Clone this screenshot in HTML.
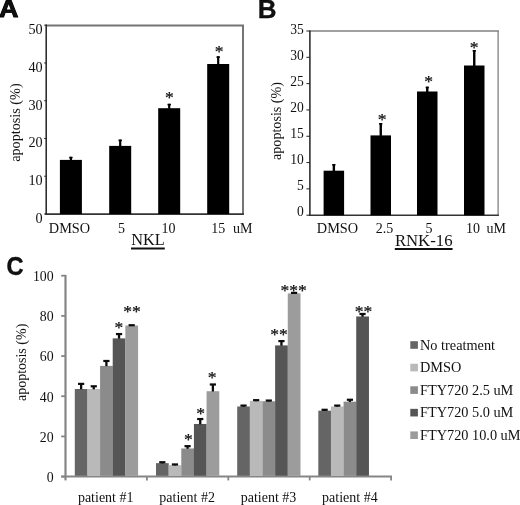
<!DOCTYPE html>
<html><head><meta charset="utf-8"><title>Figure</title>
<style>
html,body{margin:0;padding:0;background:#fff;}
body{width:520px;height:505px;overflow:hidden;}
svg{display:block;}
text{fill:#111;}
</style></head><body>
<svg width="520" height="505" viewBox="0 0 520 505">
<rect x="0" y="0" width="520" height="505" fill="#ffffff"/>
<text x="0" y="0" font-size="24.5" text-anchor="start" font-family='"Liberation Sans", sans-serif' font-weight="bold" transform="translate(-0.9,17.3) scale(1.1,1)" stroke="#000" stroke-width="0.9" fill="#000">A</text>
<text x="257.7" y="17.7" font-size="26" text-anchor="start" font-family='"Liberation Sans", sans-serif' font-weight="bold" stroke="#000" stroke-width="0.3" fill="#000">B</text>
<text x="0" y="0" font-size="26.2" text-anchor="start" font-family='"Liberation Sans", sans-serif' font-weight="bold" transform="translate(6.4,275.4) scale(0.9,1)" stroke="#000" stroke-width="0.4" fill="#000">C</text>
<line x1="46.2" y1="25.4" x2="244" y2="25.4" stroke="#757575" stroke-width="2.0"/>
<line x1="243" y1="25.2" x2="243" y2="214" stroke="#757575" stroke-width="2.0"/>
<line x1="46.2" y1="24.6" x2="46.2" y2="214.6" stroke="#222" stroke-width="1.5"/>
<line x1="45.2" y1="214.2" x2="243.9" y2="214.2" stroke="#333" stroke-width="1.8"/>
<line x1="44.2" y1="214" x2="46.2" y2="214" stroke="#222" stroke-width="1"/>
<text x="0" y="0" font-size="14.8" text-anchor="end" font-family='"Liberation Serif", serif'  transform="translate(42.6,223.1) scale(0.96,1)">0</text>
<line x1="44.2" y1="176.24" x2="46.2" y2="176.24" stroke="#222" stroke-width="1"/>
<text x="0" y="0" font-size="14.8" text-anchor="end" font-family='"Liberation Serif", serif'  transform="translate(42.6,185.24) scale(0.96,1)">10</text>
<line x1="44.2" y1="138.48" x2="46.2" y2="138.48" stroke="#222" stroke-width="1"/>
<text x="0" y="0" font-size="14.8" text-anchor="end" font-family='"Liberation Serif", serif'  transform="translate(42.6,147.38) scale(0.96,1)">20</text>
<line x1="44.2" y1="100.72" x2="46.2" y2="100.72" stroke="#222" stroke-width="1"/>
<text x="0" y="0" font-size="14.8" text-anchor="end" font-family='"Liberation Serif", serif'  transform="translate(42.6,109.52) scale(0.96,1)">30</text>
<line x1="44.2" y1="62.96" x2="46.2" y2="62.96" stroke="#222" stroke-width="1"/>
<text x="0" y="0" font-size="14.8" text-anchor="end" font-family='"Liberation Serif", serif'  transform="translate(42.6,71.66) scale(0.96,1)">40</text>
<line x1="44.2" y1="25.2" x2="46.2" y2="25.2" stroke="#222" stroke-width="1"/>
<text x="0" y="0" font-size="14.8" text-anchor="end" font-family='"Liberation Serif", serif'  transform="translate(42.6,33.8) scale(0.96,1)">50</text>
<rect x="59.9" y="159.9" width="22" height="54.1" fill="#000"/>
<rect x="69.8" y="156.8" width="2.2" height="3.6" fill="#000"/>
<rect x="69.2" y="156.8" width="3.4" height="1.6" fill="#000"/>
<rect x="109.2" y="145.9" width="22" height="68.1" fill="#000"/>
<rect x="119.1" y="139.6" width="2.2" height="6.8" fill="#000"/>
<rect x="118.5" y="139.6" width="3.4" height="1.6" fill="#000"/>
<rect x="158.2" y="108.2" width="22" height="105.8" fill="#000"/>
<rect x="168.1" y="103.8" width="2.2" height="4.9" fill="#000"/>
<rect x="167.5" y="103.8" width="3.4" height="1.6" fill="#000"/>
<rect x="207.2" y="64" width="22" height="150" fill="#000"/>
<rect x="217.1" y="56.3" width="2.2" height="8.2" fill="#000"/>
<rect x="216.5" y="56.3" width="3.4" height="1.6" fill="#000"/>
<text x="169.4" y="103.35" font-size="17.5" text-anchor="middle" font-family='"Liberation Serif", serif' stroke="#111" stroke-width="0.25">*</text>
<text x="219.2" y="57.45" font-size="17.5" text-anchor="middle" font-family='"Liberation Serif", serif' stroke="#111" stroke-width="0.25">*</text>
<text x="69.5" y="232.7" font-size="14.3" text-anchor="middle" font-family='"Liberation Serif", serif' >DMSO</text>
<text x="121.5" y="232.7" font-size="14" text-anchor="middle" font-family='"Liberation Serif", serif' >5</text>
<text x="168.4" y="232.7" font-size="14" text-anchor="middle" font-family='"Liberation Serif", serif' >10</text>
<text x="218.3" y="232.7" font-size="14" text-anchor="middle" font-family='"Liberation Serif", serif' >15</text>
<text x="233" y="232.7" font-size="14" text-anchor="start" font-family='"Liberation Serif", serif' >uM</text>
<text x="131.2" y="245.1" font-size="16" text-anchor="start" font-family='"Liberation Serif", serif' textLength="33.5" lengthAdjust="spacingAndGlyphs">NKL</text>
<line x1="131" y1="248.4" x2="164.8" y2="248.4" stroke="#111" stroke-width="2.0"/>
<text x="0" y="0" font-size="14.2" text-anchor="middle" font-family='"Liberation Serif", serif' transform="translate(20.4,122.6) rotate(-90)">apoptosis (%)</text>
<line x1="309.9" y1="31" x2="498.9" y2="31" stroke="#808080" stroke-width="1.3"/>
<line x1="498.1" y1="31" x2="498.1" y2="215.2" stroke="#808080" stroke-width="1.3"/>
<line x1="309.9" y1="30.4" x2="309.9" y2="215.8" stroke="#222" stroke-width="1.5"/>
<line x1="308.9" y1="215.2" x2="498.9" y2="215.2" stroke="#333" stroke-width="1.5"/>
<line x1="306.4" y1="215.2" x2="309.9" y2="215.2" stroke="#222" stroke-width="1"/>
<text x="0" y="0" font-size="14.3" text-anchor="end" font-family='"Liberation Serif", serif'  transform="translate(303.9,216.44) scale(0.95,1)">0</text>
<line x1="306.4" y1="188.89" x2="309.9" y2="188.89" stroke="#222" stroke-width="1"/>
<text x="0" y="0" font-size="14.3" text-anchor="end" font-family='"Liberation Serif", serif'  transform="translate(303.9,190.31) scale(0.95,1)">5</text>
<line x1="306.4" y1="162.57" x2="309.9" y2="162.57" stroke="#222" stroke-width="1"/>
<text x="0" y="0" font-size="14.3" text-anchor="end" font-family='"Liberation Serif", serif'  transform="translate(303.9,164.17) scale(0.95,1)">10</text>
<line x1="306.4" y1="136.26" x2="309.9" y2="136.26" stroke="#222" stroke-width="1"/>
<text x="0" y="0" font-size="14.3" text-anchor="end" font-family='"Liberation Serif", serif'  transform="translate(303.9,138.04) scale(0.95,1)">15</text>
<line x1="306.4" y1="109.94" x2="309.9" y2="109.94" stroke="#222" stroke-width="1"/>
<text x="0" y="0" font-size="14.3" text-anchor="end" font-family='"Liberation Serif", serif'  transform="translate(303.9,111.9) scale(0.95,1)">20</text>
<line x1="306.4" y1="83.63" x2="309.9" y2="83.63" stroke="#222" stroke-width="1"/>
<text x="0" y="0" font-size="14.3" text-anchor="end" font-family='"Liberation Serif", serif'  transform="translate(303.9,85.77) scale(0.95,1)">25</text>
<line x1="306.4" y1="57.31" x2="309.9" y2="57.31" stroke="#222" stroke-width="1"/>
<text x="0" y="0" font-size="14.3" text-anchor="end" font-family='"Liberation Serif", serif'  transform="translate(303.9,59.63) scale(0.95,1)">30</text>
<line x1="306.4" y1="31" x2="309.9" y2="31" stroke="#222" stroke-width="1"/>
<text x="0" y="0" font-size="14.3" text-anchor="end" font-family='"Liberation Serif", serif'  transform="translate(303.9,33.5) scale(0.95,1)">35</text>
<rect x="323.6" y="170.7" width="20.5" height="44.5" fill="#000"/>
<rect x="332.65" y="164" width="2.4" height="7.2" fill="#000"/>
<rect x="332.25" y="164" width="3.2" height="1.6" fill="#000"/>
<rect x="370.5" y="135.4" width="20.5" height="79.8" fill="#000"/>
<rect x="379.55" y="123" width="2.4" height="12.9" fill="#000"/>
<rect x="379.15" y="123" width="3.2" height="1.6" fill="#000"/>
<rect x="417" y="91.5" width="20.5" height="123.7" fill="#000"/>
<rect x="426.05" y="86.7" width="2.4" height="5.3" fill="#000"/>
<rect x="425.65" y="86.7" width="3.2" height="1.6" fill="#000"/>
<rect x="464" y="65.5" width="20.5" height="149.7" fill="#000"/>
<rect x="473.05" y="50" width="2.4" height="16" fill="#000"/>
<rect x="472.65" y="50" width="3.2" height="1.6" fill="#000"/>
<text x="382.2" y="124.55" font-size="17.5" text-anchor="middle" font-family='"Liberation Serif", serif' stroke="#111" stroke-width="0.25">*</text>
<text x="428.5" y="87.05" font-size="17.5" text-anchor="middle" font-family='"Liberation Serif", serif' stroke="#111" stroke-width="0.25">*</text>
<text x="474.2" y="53.05" font-size="17.5" text-anchor="middle" font-family='"Liberation Serif", serif' stroke="#111" stroke-width="0.25">*</text>
<text x="337.5" y="232.7" font-size="14.3" text-anchor="middle" font-family='"Liberation Serif", serif' >DMSO</text>
<text x="384.4" y="232.7" font-size="14" text-anchor="middle" font-family='"Liberation Serif", serif' >2.5</text>
<text x="428.9" y="232.7" font-size="14" text-anchor="middle" font-family='"Liberation Serif", serif' >5</text>
<text x="472.9" y="232.7" font-size="14" text-anchor="middle" font-family='"Liberation Serif", serif' >10</text>
<text x="486.4" y="232.7" font-size="14" text-anchor="start" font-family='"Liberation Serif", serif' >uM</text>
<text x="394.9" y="245.9" font-size="16" text-anchor="start" font-family='"Liberation Serif", serif' textLength="57.6" lengthAdjust="spacingAndGlyphs">RNK-16</text>
<line x1="394.8" y1="249" x2="452.6" y2="249" stroke="#111" stroke-width="2.0"/>
<text x="0" y="0" font-size="14.1" text-anchor="middle" font-family='"Liberation Serif", serif' transform="translate(280.9,121) rotate(-90)">apoptosis (%)</text>
<line x1="65.5" y1="274.9" x2="65.5" y2="480.4" stroke="#858585" stroke-width="2.2"/>
<line x1="61.3" y1="476.6" x2="392" y2="476.6" stroke="#858585" stroke-width="2.0"/>
<line x1="61.2" y1="476.6" x2="65.5" y2="476.6" stroke="#858585" stroke-width="1.8"/>
<text x="53.6" y="482" font-size="13.8" text-anchor="end" font-family='"Liberation Serif", serif' >0</text>
<line x1="61.2" y1="436.42" x2="65.5" y2="436.42" stroke="#858585" stroke-width="1.8"/>
<text x="53.6" y="441.82" font-size="13.8" text-anchor="end" font-family='"Liberation Serif", serif' >20</text>
<line x1="61.2" y1="396.24" x2="65.5" y2="396.24" stroke="#858585" stroke-width="1.8"/>
<text x="53.6" y="401.64" font-size="13.8" text-anchor="end" font-family='"Liberation Serif", serif' >40</text>
<line x1="61.2" y1="356.06" x2="65.5" y2="356.06" stroke="#858585" stroke-width="1.8"/>
<text x="53.6" y="361.46" font-size="13.8" text-anchor="end" font-family='"Liberation Serif", serif' >60</text>
<line x1="61.2" y1="315.88" x2="65.5" y2="315.88" stroke="#858585" stroke-width="1.8"/>
<text x="53.6" y="321.28" font-size="13.8" text-anchor="end" font-family='"Liberation Serif", serif' >80</text>
<line x1="61.2" y1="275.7" x2="65.5" y2="275.7" stroke="#858585" stroke-width="1.8"/>
<text x="53.6" y="281.1" font-size="13.8" text-anchor="end" font-family='"Liberation Serif", serif' >100</text>
<line x1="146.9" y1="476.6" x2="146.9" y2="480.4" stroke="#858585" stroke-width="1.8"/>
<line x1="228.3" y1="476.6" x2="228.3" y2="480.4" stroke="#858585" stroke-width="1.8"/>
<line x1="309.7" y1="476.6" x2="309.7" y2="480.4" stroke="#858585" stroke-width="1.8"/>
<line x1="391.1" y1="476.6" x2="391.1" y2="480.4" stroke="#858585" stroke-width="1.8"/>
<rect x="74.8" y="389.01" width="12.74" height="86.79" fill="#656565"/>
<rect x="79.97" y="383.78" width="2.3" height="5.52" fill="#0c0c0c"/>
<rect x="78.02" y="382.78" width="6.2" height="2.2" fill="#0c0c0c"/>
<rect x="87.44" y="389.01" width="12.74" height="86.79" fill="#b9b9b9"/>
<rect x="92.61" y="386.19" width="2.3" height="3.11" fill="#0c0c0c"/>
<rect x="90.66" y="385.19" width="6.2" height="2.2" fill="#0c0c0c"/>
<rect x="100.08" y="365.9" width="12.74" height="109.9" fill="#8b8b8b"/>
<rect x="105.25" y="360.88" width="2.3" height="5.32" fill="#0c0c0c"/>
<rect x="103.3" y="359.88" width="6.2" height="2.2" fill="#0c0c0c"/>
<rect x="112.72" y="338.38" width="12.74" height="137.42" fill="#555555"/>
<rect x="117.89" y="333.96" width="2.3" height="4.72" fill="#0c0c0c"/>
<rect x="115.94" y="332.96" width="6.2" height="2.2" fill="#0c0c0c"/>
<rect x="125.36" y="325.52" width="12.74" height="150.28" fill="#9c9c9c"/>
<rect x="130.53" y="325.12" width="2.3" height="0.7" fill="#0c0c0c"/>
<rect x="128.58" y="324.12" width="6.2" height="2.2" fill="#0c0c0c"/>
<rect x="156" y="463.14" width="12.74" height="12.66" fill="#656565"/>
<rect x="161.17" y="462.14" width="2.3" height="1.3" fill="#0c0c0c"/>
<rect x="159.22" y="461.14" width="6.2" height="2.2" fill="#0c0c0c"/>
<rect x="168.64" y="465.15" width="12.74" height="10.65" fill="#b9b9b9"/>
<rect x="173.81" y="464.35" width="2.3" height="1.1" fill="#0c0c0c"/>
<rect x="171.86" y="463.35" width="6.2" height="2.2" fill="#0c0c0c"/>
<rect x="181.28" y="448.47" width="12.74" height="27.33" fill="#8b8b8b"/>
<rect x="186.45" y="446.06" width="2.3" height="2.71" fill="#0c0c0c"/>
<rect x="184.5" y="445.06" width="6.2" height="2.2" fill="#0c0c0c"/>
<rect x="193.92" y="423.96" width="12.74" height="51.84" fill="#555555"/>
<rect x="199.09" y="418.94" width="2.3" height="5.32" fill="#0c0c0c"/>
<rect x="197.14" y="417.94" width="6.2" height="2.2" fill="#0c0c0c"/>
<rect x="206.56" y="391.22" width="12.74" height="84.58" fill="#9c9c9c"/>
<rect x="211.73" y="384.39" width="2.3" height="7.13" fill="#0c0c0c"/>
<rect x="209.78" y="383.39" width="6.2" height="2.2" fill="#0c0c0c"/>
<rect x="237.2" y="406.49" width="12.74" height="69.31" fill="#656565"/>
<rect x="242.37" y="405.48" width="2.3" height="1.3" fill="#0c0c0c"/>
<rect x="240.42" y="404.48" width="6.2" height="2.2" fill="#0c0c0c"/>
<rect x="249.84" y="400.86" width="12.74" height="74.94" fill="#b9b9b9"/>
<rect x="255.01" y="400.06" width="2.3" height="1.1" fill="#0c0c0c"/>
<rect x="253.06" y="399.06" width="6.2" height="2.2" fill="#0c0c0c"/>
<rect x="262.48" y="401.26" width="12.74" height="74.54" fill="#8b8b8b"/>
<rect x="267.65" y="400.46" width="2.3" height="1.1" fill="#0c0c0c"/>
<rect x="265.7" y="399.46" width="6.2" height="2.2" fill="#0c0c0c"/>
<rect x="275.12" y="345.41" width="12.74" height="130.39" fill="#555555"/>
<rect x="280.29" y="340.99" width="2.3" height="4.72" fill="#0c0c0c"/>
<rect x="278.34" y="339.99" width="6.2" height="2.2" fill="#0c0c0c"/>
<rect x="287.76" y="293.38" width="12.74" height="182.42" fill="#9c9c9c"/>
<rect x="292.93" y="292.78" width="2.3" height="0.9" fill="#0c0c0c"/>
<rect x="290.98" y="291.78" width="6.2" height="2.2" fill="#0c0c0c"/>
<rect x="318.3" y="410.7" width="12.74" height="65.1" fill="#656565"/>
<rect x="323.47" y="409.7" width="2.3" height="1.3" fill="#0c0c0c"/>
<rect x="321.52" y="408.7" width="6.2" height="2.2" fill="#0c0c0c"/>
<rect x="330.94" y="406.49" width="12.74" height="69.31" fill="#b9b9b9"/>
<rect x="336.11" y="405.48" width="2.3" height="1.3" fill="#0c0c0c"/>
<rect x="334.16" y="404.48" width="6.2" height="2.2" fill="#0c0c0c"/>
<rect x="343.58" y="401.66" width="12.74" height="74.14" fill="#8b8b8b"/>
<rect x="348.75" y="399.66" width="2.3" height="2.31" fill="#0c0c0c"/>
<rect x="346.8" y="398.66" width="6.2" height="2.2" fill="#0c0c0c"/>
<rect x="356.22" y="316.48" width="12.74" height="159.32" fill="#555555"/>
<rect x="361.39" y="313.87" width="2.3" height="2.91" fill="#0c0c0c"/>
<rect x="359.44" y="312.87" width="6.2" height="2.2" fill="#0c0c0c"/>
<text x="118.9" y="332.75" font-size="17.5" text-anchor="middle" font-family='"Liberation Serif", serif' stroke="#111" stroke-width="0.25">*</text>
<text x="132.1" y="316.65" font-size="17.5" text-anchor="middle" font-family='"Liberation Serif", serif' stroke="#111" stroke-width="0.25">**</text>
<text x="188.3" y="445.15" font-size="17.5" text-anchor="middle" font-family='"Liberation Serif", serif' stroke="#111" stroke-width="0.25">*</text>
<text x="200.5" y="419.45" font-size="17.5" text-anchor="middle" font-family='"Liberation Serif", serif' stroke="#111" stroke-width="0.25">*</text>
<text x="212.1" y="382.85" font-size="17.5" text-anchor="middle" font-family='"Liberation Serif", serif' stroke="#111" stroke-width="0.25">*</text>
<text x="278.9" y="339.85" font-size="17.5" text-anchor="middle" font-family='"Liberation Serif", serif' stroke="#111" stroke-width="0.25">**</text>
<text x="293.7" y="295.85" font-size="17.5" text-anchor="middle" font-family='"Liberation Serif", serif' stroke="#111" stroke-width="0.25">***</text>
<text x="363.4" y="316.95" font-size="17.5" text-anchor="middle" font-family='"Liberation Serif", serif' stroke="#111" stroke-width="0.25">**</text>
<text x="105.7" y="501.7" font-size="14" text-anchor="middle" font-family='"Liberation Serif", serif' >patient #1</text>
<text x="187.1" y="501.7" font-size="14" text-anchor="middle" font-family='"Liberation Serif", serif' >patient #2</text>
<text x="268.5" y="501.7" font-size="14" text-anchor="middle" font-family='"Liberation Serif", serif' >patient #3</text>
<text x="349.9" y="501.7" font-size="14" text-anchor="middle" font-family='"Liberation Serif", serif' >patient #4</text>
<text x="0" y="0" font-size="14" text-anchor="middle" font-family='"Liberation Serif", serif' transform="translate(26.2,362.4) rotate(-90)">apoptosis (%)</text>
<rect x="410.3" y="341.2" width="7.6" height="7.6" fill="#656565"/>
<text x="420" y="349.6" font-size="14.3" text-anchor="start" font-family='"Liberation Serif", serif' >No treatment</text>
<rect x="410.3" y="363.75" width="7.6" height="7.6" fill="#b9b9b9"/>
<text x="420" y="372.15" font-size="14.3" text-anchor="start" font-family='"Liberation Serif", serif' >DMSO</text>
<rect x="410.3" y="386.3" width="7.6" height="7.6" fill="#8b8b8b"/>
<text x="420" y="394.7" font-size="14.3" text-anchor="start" font-family='"Liberation Serif", serif' >FTY720 2.5 uM</text>
<rect x="410.3" y="408.85" width="7.6" height="7.6" fill="#555555"/>
<text x="420" y="417.25" font-size="14.3" text-anchor="start" font-family='"Liberation Serif", serif' >FTY720 5.0 uM</text>
<rect x="410.3" y="431.4" width="7.6" height="7.6" fill="#9c9c9c"/>
<text x="420" y="439.8" font-size="14.3" text-anchor="start" font-family='"Liberation Serif", serif' >FTY720 10.0 uM</text>
</svg>
</body></html>
